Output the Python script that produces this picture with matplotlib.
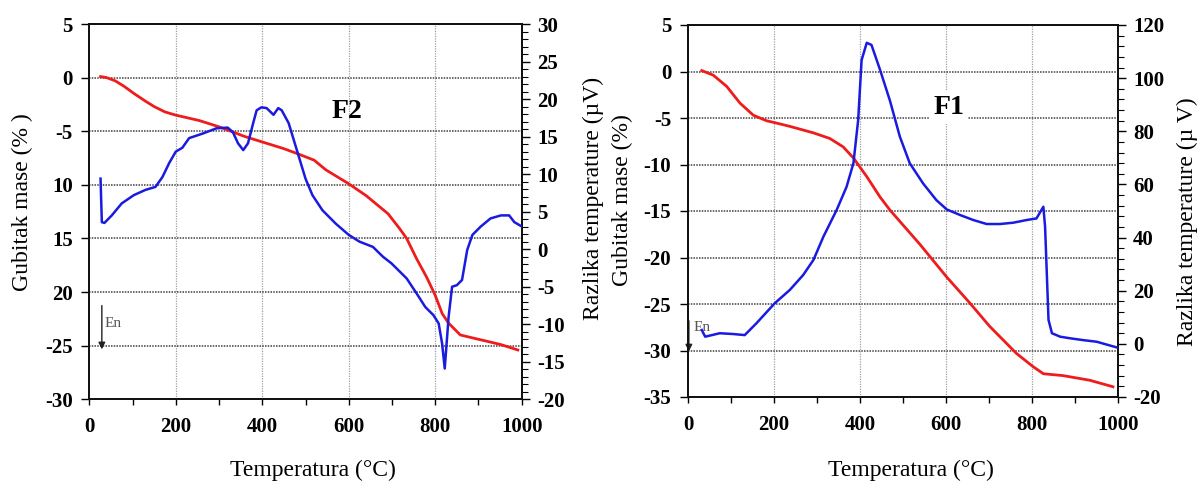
import matplotlib
matplotlib.use("Agg")
import matplotlib.pyplot as plt
from matplotlib.ticker import MultipleLocator, FixedLocator, FixedFormatter

plt.rcParams['axes.unicode_minus'] = False
plt.rcParams['font.family'] = ['Liberation Serif', 'DejaVu Serif']

# ---------------- F2 (left panel) ----------------
f2_tg_T = [26, 40, 60, 80, 104, 130, 150, 175, 200, 254, 301, 360, 400, 448, 482, 520, 547,
           600, 640, 691, 718, 734, 757, 780, 800, 816, 831, 858, 889, 921, 952, 991]
f2_tg = [0.1, 0.0, -0.3, -0.8, -1.5, -2.2, -2.7, -3.2, -3.5, -4.0, -4.6, -5.5, -6.0, -6.6, -7.1,
         -7.7, -8.6, -9.9, -11.0, -12.7, -14.1, -15.0, -16.9, -18.6, -20.3, -22.0, -22.9, -24.0,
         -24.3, -24.6, -24.9, -25.4]
f2_dta_T = [26, 29, 35, 52, 75, 103, 130, 153, 169, 185, 200, 215, 231, 262, 294, 320, 332, 344,
            356, 367, 379, 387, 398, 410, 426, 437, 445, 461, 480, 500, 516, 539, 570, 600, 625,
            656, 679, 699, 734, 757, 777, 796, 808, 816, 822, 831, 839, 850, 862, 874, 886, 905,
            928, 952, 971, 983, 998]
f2_dta = [9.4, 3.6, 3.5, 4.5, 6.1, 7.2, 7.9, 8.3, 9.6, 11.5, 13.0, 13.5, 14.8, 15.4, 16.1, 16.2,
          15.6, 14.1, 13.2, 14.1, 16.8, 18.5, 18.9, 18.8, 17.9, 18.8, 18.5, 16.8, 13.2, 9.4, 7.2,
          5.2, 3.4, 1.9, 1.0, 0.3, -1.0, -1.9, -3.9, -5.9, -7.7, -8.8, -9.9, -12.6, -15.9, -9.0,
          -5.0, -4.8, -4.1, -0.1, 1.9, 3.0, 4.1, 4.5, 4.5, 3.6, 3.1]
f2_left_ticks = [5, 0, -5, -10, -15, -20, -25, -30]
f2_left_labels = ["5", "0", "-5", "10", "15", "20", "-25", "-30"]
f2_right_ticks = [30, 25, 20, 15, 10, 5, 0, -5, -10, -15, -20]

# ---------------- F1 (right panel) ----------------
f1_tg_T = [32, 59, 90, 121, 152, 183, 202, 237, 292, 330, 361, 385, 416, 447, 470, 540, 602,
           656, 702, 764, 802, 827, 873, 935, 989]
f1_tg = [0.1, -0.4, -1.6, -3.4, -4.7, -5.3, -5.5, -5.9, -6.6, -7.2, -8.1, -9.3, -11.3, -13.5,
         -14.9, -18.6, -22.1, -24.9, -27.4, -30.3, -31.7, -32.5, -32.7, -33.2, -33.9]
f1_dta_T = [32, 40, 74, 105, 132, 159, 202, 237, 268, 292, 315, 346, 369, 385, 396, 404, 416,
            427, 447, 470, 493, 516, 547, 578, 602, 633, 664, 695, 726, 757, 788, 811, 820, 827,
            831, 839, 847, 866, 889, 920, 951, 997]
f1_dta = [5.2, 2.7, 4.0, 3.7, 3.3, 7.7, 15.3, 20.3, 25.9, 31.6, 40.3, 50.4, 59.1, 68.0, 84.2,
          106.8, 113.3, 112.5, 103.1, 91.5, 78.0, 68.0, 60.4, 54.1, 50.6, 48.5, 46.6, 45.1, 45.1,
          45.6, 46.6, 47.2, 49.7, 51.6, 44.1, 9.0, 4.0, 2.7, 2.1, 1.4, 0.8, -1.3]
f1_left_ticks = [5, 0, -5, -10, -15, -20, -25, -30, -35]
f1_left_labels = ["5", "0", "-5", "-10", "-15", "-20", "-25", "-30", "-35"]
f1_right_ticks = [120, 100, 80, 60, 40, 20, 0, -20]

x_ticks = [0, 200, 400, 600, 800, 1000]

RED = '#ee1c1c'
BLUE = '#1a1ae0'
W, H = 1198, 484
fig = plt.figure(figsize=(W / 100, H / 100), dpi=100)

TICKFONT = dict(family='Liberation Serif', weight='bold', size=15)


def style_panel(ax, ax2, ylim, yticks, ylabels, y2lim, y2ticks, y2minor):
    ax.set_xlim(0, 1000)
    ax.set_ylim(*ylim)
    ax.xaxis.set_major_locator(FixedLocator(x_ticks))
    ax.xaxis.set_minor_locator(MultipleLocator(100))
    ax.yaxis.set_major_locator(FixedLocator(yticks))
    ax.yaxis.set_major_formatter(FixedFormatter(ylabels))
    ax.grid(False)
    for v in x_ticks[1:-1]:
        ax.axvline(v, color='#a0a0a0', lw=0.9, ls=(0, (1, 1)), zorder=0.5)
    for v in yticks:
        if ylim[0] < v < ylim[1]:
            ax.axhline(v, color='#404040', lw=1.1, ls=(0, (1, 0.8)), zorder=0.5)
    ax.tick_params(axis='x', which='both', direction='out', length=4, width=1, pad=9,
                   top=False)
    ax.tick_params(axis='y', which='major', direction='out', length=6, width=1, pad=6,
                   right=False)
    for lab in ax.get_xticklabels() + ax.get_yticklabels():
        lab.set_fontproperties(matplotlib.font_manager.FontProperties(**TICKFONT))
    for sp in ax.spines.values():
        sp.set_linewidth(1.3)
        sp.set_color('#111111')
    ax2.set_ylim(*y2lim)
    ax2.yaxis.set_major_locator(FixedLocator(y2ticks))
    ax2.yaxis.set_minor_locator(MultipleLocator(y2minor))
    ax2.tick_params(axis='y', which='major', direction='out', length=6, width=1, pad=5)
    ax2.tick_params(axis='y', which='minor', direction='out', length=4, width=0.8)
    for lab in ax2.get_yticklabels():
        lab.set_fontproperties(matplotlib.font_manager.FontProperties(**TICKFONT))
    for sp in ax2.spines.values():
        sp.set_linewidth(1.3)
        sp.set_color('#111111')


# Left panel (F2)
axL = fig.add_axes([89.3 / W, (H - 399.3) / H, (521.7 - 89.3) / W, (399.3 - 24) / H])
axL2 = axL.twinx()
style_panel(axL, axL2, (-30, 5), f2_left_ticks, f2_left_labels, (-20, 30), f2_right_ticks, 1)
axL.plot(f2_tg_T, f2_tg, color=RED, lw=2.0, zorder=3)
axL2.plot(f2_dta_T, f2_dta, color=BLUE, lw=1.8, zorder=3)
axL.text(596, -3.2, 'F2', ha='center', va='center', fontsize=20, fontweight='bold')
axL.annotate('', xy=(29, -25.6), xytext=(29, -21.0),
             arrowprops=dict(arrowstyle='-|>', color='#222222', lw=1.0, mutation_scale=10))
axL.text(36, -22.9, 'En', ha='left', va='center', fontsize=11, color='#555555')

# Right panel (F1)
axR = fig.add_axes([688 / W, (H - 397) / H, 429.7 / W, 372 / H])
axR2 = axR.twinx()
style_panel(axR, axR2, (-35, 5), f1_left_ticks, f1_left_labels, (-20, 120), f1_right_ticks, 4)
axR.plot(f1_tg_T, f1_tg, color=RED, lw=2.0, zorder=3)
axR2.plot(f1_dta_T, f1_dta, color=BLUE, lw=1.8, zorder=3)
axR.text(607, -3.9, 'F1', ha='center', va='center', fontsize=20, fontweight='bold',
         bbox=dict(facecolor='white', edgecolor='none', pad=3), zorder=4)
axR.annotate('', xy=(2, -30.4), xytext=(2, -26.5),
             arrowprops=dict(arrowstyle='-|>', color='#222222', lw=1.0, mutation_scale=10))
axR.text(12, -27.5, 'En', ha='left', va='center', fontsize=11, color='#555555')

# Axis titles as figure text at measured positions
LBL = dict(family='Liberation Serif', size=17)
fig.text(22 / W, 1 - 202 / H, 'Gubitak mase (% )', rotation=90, ha='center', va='center', **LBL)
fig.text(593 / W, 1 - 198 / H, 'Razlika temperature (µV)', rotation=90, ha='center', va='center', **LBL)
fig.text(622 / W, 1 - 200 / H, 'Gubitak mase (%)', rotation=90, ha='center', va='center', **LBL)
fig.text(1187 / W, 1 - 222 / H, 'Razlika temperature (µ V)', rotation=90, ha='center', va='center', **LBL)
fig.text(313 / W, 1 - 470 / H, 'Temperatura (°C)', ha='center', va='center', **LBL)
fig.text(911 / W, 1 - 470 / H, 'Temperatura (°C)', ha='center', va='center', **LBL)

fig.savefig('out.png', dpi=100)
